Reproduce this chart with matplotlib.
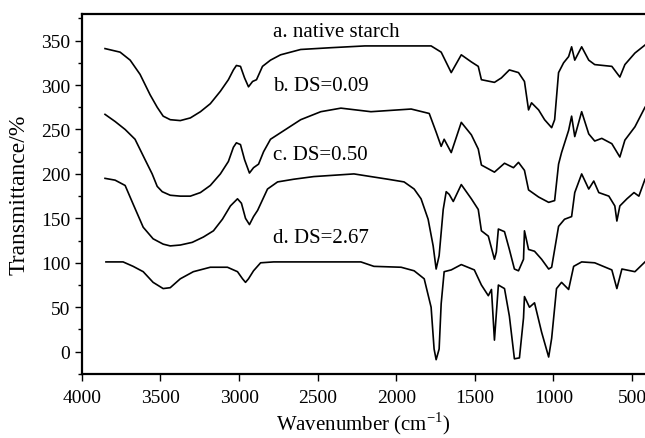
import matplotlib.pyplot as plt
from matplotlib.ticker import MultipleLocator

plt.rcParams["font.family"] = "Liberation Serif"
plt.rcParams["mathtext.fontset"] = "custom"
plt.rcParams["mathtext.rm"] = "Liberation Serif"

# a. native starch
wn_a = [3853, 3757, 3693, 3630, 3566, 3521, 3483, 3438, 3374, 3310, 3246, 3183, 3119, 3068,
        3036, 3017, 2991, 2965, 2940, 2914, 2889, 2851, 2800, 2736, 2608, 2416, 2200, 1950,
        1778, 1714, 1650, 1586, 1522, 1478, 1458, 1375, 1331, 1280, 1222, 1184, 1158, 1139,
        1094, 1056, 1011, 992, 967, 935, 903, 884, 864, 820, 775, 737, 628, 577, 545, 481, 417]
tr_a = [341, 337, 328, 312, 289, 275, 265, 261, 260, 263, 270, 279, 293, 306,
        317, 322, 321, 308, 298, 304, 306, 321, 328, 334, 340, 342, 344, 344,
        344, 337, 314, 334, 326, 321, 306, 303, 308, 317, 314, 304, 272, 280,
        272, 261, 252, 261, 314, 325, 332, 343, 328, 343, 328, 323, 321, 309, 323, 336, 345]

# b. DS=0.09
wn_b = [3853, 3789, 3725, 3662, 3598, 3553, 3521, 3489, 3438, 3374, 3310, 3246, 3183, 3119,
        3068, 3036, 3017, 2991, 2965, 2934, 2908, 2876, 2844, 2800, 2704, 2608, 2480, 2352,
        2161, 1905, 1790, 1746, 1714, 1695, 1650, 1586, 1522, 1478, 1458, 1375, 1311, 1254,
        1222, 1184, 1158, 1094, 1030, 992, 967, 948, 903, 884, 864, 820, 775, 737, 692, 628,
        577, 545, 481, 417]
tr_b = [267, 259, 250, 239, 216, 200, 186, 180, 176, 175, 175, 179, 187, 200,
        214, 230, 235, 233, 216, 201, 207, 211, 225, 239, 250, 261, 270, 274,
        270, 273, 268, 247, 231, 239, 224, 258, 244, 228, 210, 202, 212, 207,
        213, 204, 182, 174, 168, 170, 211, 224, 249, 265, 242, 270, 245, 237, 240, 234,
        219, 238, 253, 275]

# c. DS=0.50
wn_c = [3853, 3789, 3725, 3674, 3610, 3547, 3483, 3438, 3374, 3298, 3227, 3163, 3106, 3055,
        3010, 2985, 2959, 2934, 2908, 2882, 2819, 2755, 2653, 2525, 2269, 2161, 2052, 1950,
        1886, 1842, 1797, 1765, 1746, 1727, 1701, 1682, 1663, 1637, 1586, 1522, 1478, 1458,
        1414, 1375, 1363, 1350, 1311, 1280, 1248, 1222, 1190, 1184, 1158, 1120, 1075, 1030,
        1011, 967, 929, 884, 864, 820, 775, 743, 711, 647, 609, 596, 577, 532, 487, 456, 417]
tr_c = [195, 193, 187, 166, 140, 127, 121, 119, 120, 123, 129, 136, 149, 164,
        172, 167, 150, 143, 152, 159, 183, 191, 194, 197, 200, 197, 194, 191,
        183, 172, 149, 119, 93, 108, 160, 180, 177, 169, 188, 172, 160, 136,
        130, 104, 112, 138, 135, 115, 93, 91, 104, 136, 115, 113, 104, 93,
        95, 141, 149, 152, 179, 200, 183, 192, 179, 175, 164, 147, 164, 172, 179, 175, 194]

# d. DS=2.67
wn_d = [3847, 3738, 3674, 3610, 3547, 3483, 3438, 3374, 3291, 3183, 3074, 3010, 2978, 2959,
        2940, 2908, 2863, 2780, 2416, 2225, 2142, 1969, 1886, 1822, 1778, 1759, 1746, 1727,
        1714, 1695, 1650, 1586, 1503, 1458, 1414, 1394, 1375, 1350, 1311, 1280, 1248, 1216,
        1190, 1184, 1152, 1120, 1075, 1030, 1011, 980, 948, 903, 871, 820, 737, 628, 596,
        564, 481, 417]
tr_d = [101, 101, 96, 90, 78, 71, 72, 82, 90, 95, 95, 90, 82, 78,
        82, 91, 100, 101, 101, 101, 96, 95, 91, 82, 50, 3, -9, 3,
        54, 90, 92, 98, 92, 75, 63, 70, 13, 75, 71, 40, -8, -7,
        38, 62, 50, 55, 22, -6, 15, 71, 78, 70, 96, 101, 100, 92, 71,
        93, 90, 101]

labels = ["a. native starch", "b. DS=0.09", "c. DS=0.50", "d. DS=2.67"]
label_y = [360, 300, 222, 129]

fig = plt.figure(figsize=(6.45, 4.39), dpi=100)
ax = fig.add_axes([0.127, 0.146, 0.873, 0.82])

for wn, tr in [(wn_a, tr_a), (wn_b, tr_b), (wn_c, tr_c), (wn_d, tr_d)]:
    ax.plot(wn, tr, color="black", lw=1.2)

for lab, yy in zip(labels, label_y):
    ax.text(2784, yy, lab, fontsize=15, va="center", ha="left")

ax.set_xlim(4000, 417)
ax.set_ylim(-25, 380)
ax.xaxis.set_major_locator(MultipleLocator(500))
ax.yaxis.set_major_locator(MultipleLocator(50))
ax.yaxis.set_minor_locator(MultipleLocator(25))
ax.tick_params(axis="both", which="major", direction="out", length=5, width=1, labelsize=14)
ax.tick_params(axis="x", which="major", pad=6)
ax.tick_params(axis="y", which="minor", direction="out", length=3, width=1)

for s in ["left", "bottom", "top"]:
    ax.spines[s].set_linewidth(1.6)
ax.spines["right"].set_visible(False)

ax.set_xlabel("Wavenumber (cm$^{-1}$)", fontsize=15, labelpad=2)
ax.set_ylabel("Transmittance/%", fontsize=17, labelpad=8)

fig.savefig("out.png", dpi=100)
